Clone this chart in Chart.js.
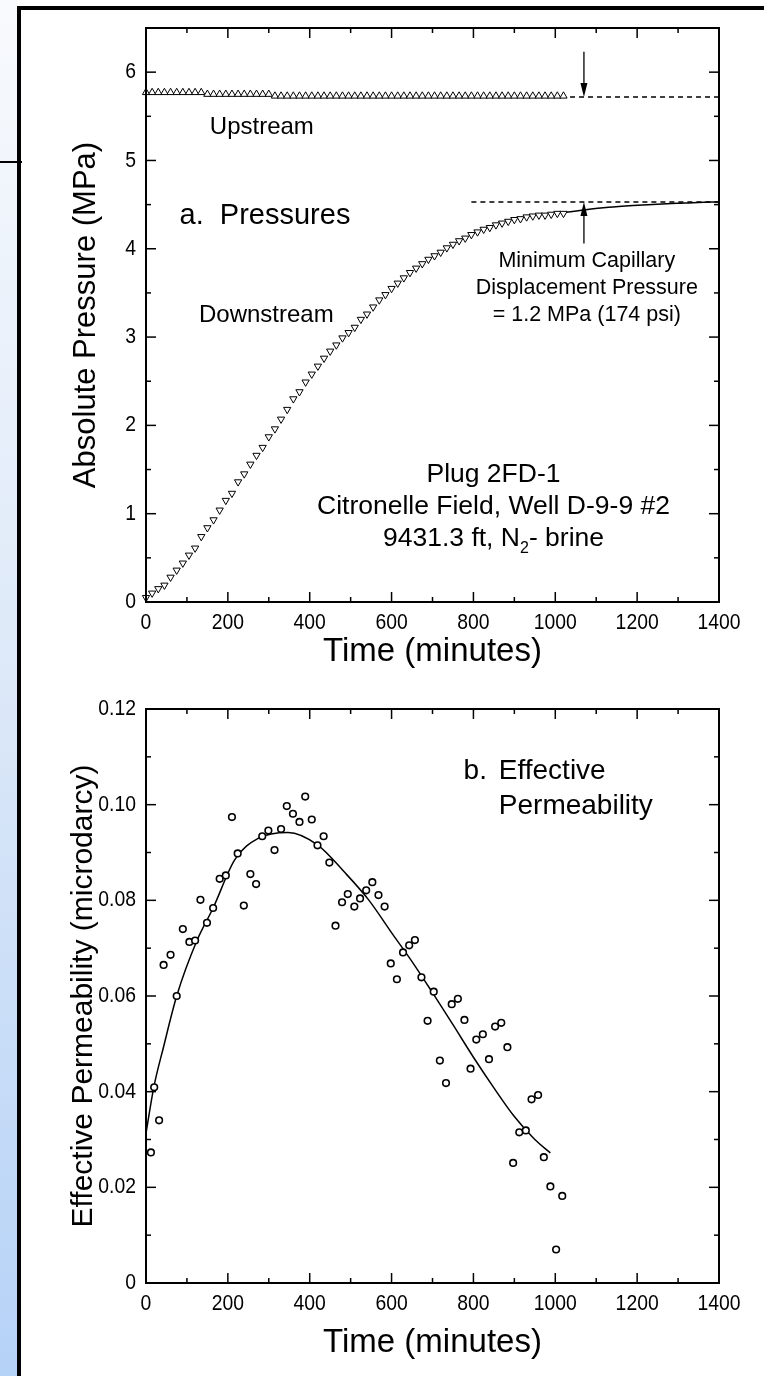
<!DOCTYPE html>
<html>
<head>
<meta charset="utf-8">
<script src="https://cdn.jsdelivr.net/npm/chart.js@4.4.0/dist/chart.umd.min.js"></script>
<style>
  html, body { margin: 0; padding: 0; background: #fff; }
  body { width: 764px; height: 1376px; position: relative; overflow: hidden; }
  #strip { position: absolute; left: 0; top: 0; width: 17px; height: 1376px;
           background: linear-gradient(#f8fafd, #dce8f8 50%, #b5d2f7); }
  #vline { position: absolute; left: 17px; top: 6px; width: 4px; height: 1370px; background: #000; }
  #hline { position: absolute; left: 17px; top: 6px; width: 747px; height: 4px; background: #000; }
  #notch { position: absolute; left: 0; top: 161px; width: 22px; height: 2px; background: #000; }
  canvas { position: absolute; left: 0; }
</style>
</head>
<body>
<div id="strip"></div><div id="vline"></div><div id="hline"></div><div id="notch"></div>
<canvas id="chartA" width="764" height="680" style="top:0"></canvas>
<canvas id="chartB" width="764" height="696" style="top:680px"></canvas>
<script>
// axis ticks
const timeTicks = [0, 200, 400, 600, 800, 1000, 1200, 1400];
const timeMinor = [100, 300, 500, 700, 900, 1100, 1300];
const pressureTicks = [0, 1, 2, 3, 4, 5, 6];
const pressureMinor = [0.5, 1.5, 2.5, 3.5, 4.5, 5.5];
const permTicks = [0, 0.02, 0.04, 0.06, 0.08, 0.10, 0.12];
const permMinor = [0.01, 0.03, 0.05, 0.07, 0.09, 0.11];
const permTickLabels = ['0', '0.02', '0.04', '0.06', '0.08', '0.10', '0.12'];

// a. pressures (minutes, MPa)
const pressureTimes = [0, 15, 30, 45, 60, 75, 90, 105, 120, 135, 150, 165, 180, 195, 210, 225, 240, 255,
  270, 285, 300, 315, 330, 345, 360, 375, 390, 405, 420, 435, 450, 465, 480, 495, 510, 525, 540, 555,
  570, 585, 600, 615, 630, 645, 660, 675, 690, 705, 720, 735, 750, 765, 780, 795, 810, 825, 840, 855,
  870, 885, 900, 915, 930, 945, 960, 975, 990, 1005, 1020];
const upstreamMPa = [5.77, 5.77, 5.77, 5.77, 5.77, 5.77, 5.77, 5.77, 5.77, 5.77, 5.75, 5.75, 5.75, 5.75,
  5.75, 5.75, 5.75, 5.75, 5.75, 5.75, 5.75, 5.73, 5.73, 5.73, 5.73, 5.73, 5.73, 5.73, 5.73, 5.73, 5.73,
  5.73, 5.73, 5.73, 5.73, 5.73, 5.73, 5.73, 5.73, 5.73, 5.73, 5.73, 5.73, 5.73, 5.73, 5.73, 5.73, 5.73,
  5.73, 5.73, 5.73, 5.73, 5.73, 5.73, 5.73, 5.73, 5.73, 5.73, 5.73, 5.73, 5.73, 5.73, 5.73, 5.73, 5.73,
  5.73, 5.73, 5.73, 5.73];
const downstreamMPa = [0.05, 0.10, 0.15, 0.19, 0.28, 0.36, 0.44, 0.53, 0.61, 0.74, 0.84, 0.93, 1.04, 1.15,
  1.23, 1.36, 1.45, 1.56, 1.66, 1.75, 1.87, 1.96, 2.07, 2.18, 2.30, 2.38, 2.49, 2.58, 2.67, 2.76, 2.84,
  2.91, 2.99, 3.05, 3.11, 3.20, 3.26, 3.34, 3.42, 3.48, 3.55, 3.61, 3.67, 3.73, 3.78, 3.83, 3.88, 3.92,
  3.96, 4.01, 4.05, 4.09, 4.12, 4.16, 4.19, 4.22, 4.24, 4.27, 4.29, 4.31, 4.33, 4.34, 4.36, 4.37, 4.38,
  4.38, 4.39, 4.40, 4.40];
const downFitTimes = [1020, 1070, 1130, 1190, 1250, 1300, 1350, 1400];
const downFitMPa = [4.41, 4.44, 4.47, 4.49, 4.505, 4.515, 4.525, 4.53];
const upLevelTimes = [1036, 1400];
const upLevelMPa = [5.72, 5.72];
const downLevelTimes = [795, 1400];
const downLevelMPa = [4.53, 4.53];

// b. effective permeability (minutes, microdarcy)
const permTimes = [12, 20, 32, 43, 60, 75, 90, 106, 120, 133, 149, 164, 180, 195, 210, 224, 239, 255, 269,
  284, 299, 314, 330, 344, 359, 375, 389, 405, 419, 434, 448, 463, 479, 493, 509, 523, 538, 553, 568,
  583, 598, 613, 628, 643, 657, 673, 688, 703, 718, 733, 747, 762, 778, 793, 807, 823, 838, 853, 868,
  883, 897, 912, 928, 942, 958, 972, 988, 1002, 1017];
const permValues = [0.0273, 0.0409, 0.0340, 0.0665, 0.0686, 0.0600, 0.0740, 0.0713, 0.0716, 0.0801,
  0.0753, 0.0784, 0.0845, 0.0852, 0.0974, 0.0898, 0.0789, 0.0855, 0.0834, 0.0934, 0.0946, 0.0905,
  0.0949, 0.0997, 0.0981, 0.0964, 0.1017, 0.0969, 0.0915, 0.0934, 0.0879, 0.0747, 0.0796, 0.0813,
  0.0787, 0.0804, 0.0821, 0.0838, 0.0811, 0.0787, 0.0668, 0.0635, 0.0691, 0.0706, 0.0717, 0.0639,
  0.0548, 0.0609, 0.0465, 0.0418, 0.0583, 0.0594, 0.0550, 0.0448, 0.0509, 0.0520, 0.0468, 0.0536,
  0.0544, 0.0493, 0.0251, 0.0315, 0.0319, 0.0384, 0.0393, 0.0263, 0.0202, 0.0070, 0.0182];
const permFitTimes = [0, 19, 43, 75, 125, 164, 217, 275, 347, 419, 487, 544, 602, 650, 700, 750, 800, 850, 900, 950, 988];
const permFitValues = [0.0313, 0.0409, 0.0494, 0.0600, 0.0717, 0.0784, 0.0885, 0.0930, 0.0942, 0.0916,
  0.0857, 0.0801, 0.0730, 0.0672, 0.0607, 0.0540, 0.0472, 0.0408, 0.0348, 0.0300, 0.0272];

const FONT = "'Liberation Sans', Arial, sans-serif";
Chart.defaults.font.family = FONT;
Chart.defaults.color = '#000';

const pts = (xs, ys) => xs.map((x, i) => ({ x: x, y: ys[i] }));

// narrow-looking text, as in the scanned figure
function narrowText(ctx, text, x, y, size, align, squeeze) {
  ctx.save();
  ctx.font = size + 'px ' + FONT;
  ctx.textAlign = align;
  ctx.textBaseline = 'middle';
  ctx.translate(x, y);
  ctx.scale(squeeze, 1);
  ctx.fillText(text, 0, 0);
  ctx.restore();
}

// inward ticks on all four sides + frame + tick labels + text notes
const decor = {
  id: 'decor',
  afterDatasetsDraw(chart, args, opts) {
    const ctx = chart.ctx;
    const xs = chart.scales.x, ys = chart.scales.y;
    const { left, right, top, bottom } = chart.chartArea;
    ctx.save();
    ctx.strokeStyle = '#000';
    ctx.fillStyle = '#000';
    ctx.lineWidth = 1.5;
    const seg = (x1, y1, x2, y2) => { ctx.beginPath(); ctx.moveTo(x1, y1); ctx.lineTo(x2, y2); ctx.stroke(); };
    opts.xMajor.forEach(v => { const x = xs.getPixelForValue(v); seg(x, bottom, x, bottom - 10); seg(x, top, x, top + 10); });
    opts.xMinor.forEach(v => { const x = xs.getPixelForValue(v); seg(x, bottom, x, bottom - 5); seg(x, top, x, top + 5); });
    opts.yMajor.forEach(v => { const y = ys.getPixelForValue(v); seg(left, y, left + 10, y); seg(right, y, right - 10, y); });
    opts.yMinor.forEach(v => { const y = ys.getPixelForValue(v); seg(left, y, left + 5, y); seg(right, y, right - 5, y); });
    ctx.lineWidth = 2;
    ctx.strokeRect(left, top, right - left, bottom - top);

    // tick labels
    opts.xMajor.forEach(v => narrowText(ctx, String(v), xs.getPixelForValue(v), bottom + 21, 22, 'center', 0.88));
    opts.yMajor.forEach((v, i) => {
      const label = opts.yLabels ? opts.yLabels[i] : String(v);
      narrowText(ctx, label, left - 10, ys.getPixelForValue(v), 22, 'right', 0.88);
    });

    // arrows
    ctx.lineWidth = 1.3;
    (opts.arrows || []).forEach(a => {
      const x = xs.getPixelForValue(a.t);
      const y0 = ys.getPixelForValue(a.from), y1 = ys.getPixelForValue(a.to);
      const dir = y1 > y0 ? 1 : -1;
      seg(x, y0, x, y1 - dir * 10);
      ctx.beginPath();
      ctx.moveTo(x, y1);
      ctx.lineTo(x - 3.5, y1 - dir * 14);
      ctx.lineTo(x + 3.5, y1 - dir * 14);
      ctx.closePath();
      ctx.fill();
    });

    // notes
    ctx.textBaseline = 'middle';
    (opts.notes || []).forEach(n => {
      ctx.font = n.size + 'px ' + FONT;
      const x = xs.getPixelForValue(n.t), y = ys.getPixelForValue(n.v);
      if (n.sub) {
        const subFont = Math.round(n.size * 0.62) + 'px ' + FONT;
        const w1 = ctx.measureText(n.text).width;
        const w3 = ctx.measureText(n.after).width;
        ctx.font = subFont;
        const w2 = ctx.measureText(n.sub).width;
        let sx = x - (w1 + w2 + w3) / 2;
        ctx.textAlign = 'left';
        ctx.font = n.size + 'px ' + FONT;
        ctx.fillText(n.text, sx, y);
        ctx.font = subFont;
        ctx.fillText(n.sub, sx + w1, y + n.size * 0.38);
        ctx.font = n.size + 'px ' + FONT;
        ctx.fillText(n.after, sx + w1 + w2, y);
      } else {
        ctx.textAlign = n.align || 'center';
        ctx.fillText(n.text, x, y);
      }
    });
    ctx.restore();
  }
};

function axis(opts) {
  return Object.assign({
    type: 'linear',
    grid: { display: false, drawTicks: false },
    border: { display: false },
    ticks: { display: false }
  }, opts);
}

function xAxis(titlePad, height) {
  return axis({
    min: 0, max: 1400,
    afterBuildTicks: s => { s.ticks = timeTicks.map(v => ({ value: v })); },
    afterFit: s => { s.height = height; },
    title: { display: true, text: 'Time (minutes)', font: { size: 33 }, padding: { top: 0, bottom: titlePad } }
  });
}

new Chart(document.getElementById('chartA'), {
  type: 'scatter',
  data: {
    datasets: [
      { data: pts(pressureTimes, upstreamMPa), pointStyle: 'triangle', radius: 4.2,
        backgroundColor: '#fff', borderColor: '#000', borderWidth: 1, clip: false },
      { data: pts(pressureTimes, downstreamMPa), pointStyle: 'triangle', rotation: 180, radius: 4.2,
        backgroundColor: '#fff', borderColor: '#000', borderWidth: 1, clip: false },
      { type: 'line', data: pts(downFitTimes, downFitMPa), borderColor: '#000', borderWidth: 1.5,
        pointRadius: 0, tension: 0.4, cubicInterpolationMode: 'monotone' },
      { type: 'line', data: pts(upLevelTimes, upLevelMPa), borderColor: '#000', borderWidth: 1.5,
        borderDash: [5, 4], pointRadius: 0 },
      { type: 'line', data: pts(downLevelTimes, downLevelMPa), borderColor: '#000', borderWidth: 1.5,
        borderDash: [5, 4], pointRadius: 0 }
    ]
  },
  options: {
    responsive: false, animation: false, devicePixelRatio: 1,
    layout: { padding: { left: 0, top: 28, right: 45, bottom: 0 } },
    plugins: {
      legend: { display: false }, tooltip: { enabled: false },
      decor: {
        xMajor: timeTicks, xMinor: timeMinor, yMajor: pressureTicks, yMinor: pressureMinor,
        arrows: [{ t: 1070, from: 6.23, to: 5.72 }, { t: 1070, from: 4.06, to: 4.53 }],
        notes: [
          { text: 'Upstream', t: 283, v: 5.38, size: 24 },
          { text: 'a.  Pressures', t: 82, v: 4.37, size: 29, align: 'left' },
          { text: 'Downstream', t: 294, v: 3.25, size: 24 },
          { text: 'Minimum Capillary', t: 1077, v: 3.86, size: 21.5 },
          { text: 'Displacement Pressure', t: 1077, v: 3.55, size: 21.5 },
          { text: '= 1.2 MPa (174 psi)', t: 1077, v: 3.25, size: 21.5 },
          { text: 'Plug 2FD-1', t: 849, v: 1.44, size: 26.5 },
          { text: 'Citronelle Field, Well D-9-9 #2', t: 849, v: 1.08, size: 26.5 },
          { text: '9431.3 ft, N', sub: '2', after: '- brine', t: 849, v: 0.72, size: 26.5 }
        ]
      }
    },
    scales: {
      x: xAxis(8, 78),
      y: axis({
        min: 0, max: 6.5,
        afterBuildTicks: s => { s.ticks = pressureTicks.map(v => ({ value: v })); },
        afterFit: s => { s.width = 146; },
        title: { display: true, text: 'Absolute Pressure (MPa)', font: { size: 31 }, padding: { top: 68, bottom: 0 } }
      })
    }
  },
  plugins: [decor]
});

new Chart(document.getElementById('chartB'), {
  type: 'scatter',
  data: {
    datasets: [
      { data: pts(permTimes, permValues), pointStyle: 'circle', radius: 3.3,
        backgroundColor: '#fff', borderColor: '#000', borderWidth: 1.6, clip: false },
      { type: 'line', data: pts(permFitTimes, permFitValues), borderColor: '#000', borderWidth: 1.5,
        pointRadius: 0, tension: 0.4, cubicInterpolationMode: 'monotone' }
    ]
  },
  options: {
    responsive: false, animation: false, devicePixelRatio: 1,
    layout: { padding: { left: 0, top: 29, right: 45, bottom: 0 } },
    plugins: {
      legend: { display: false }, tooltip: { enabled: false },
      decor: {
        xMajor: timeTicks, xMinor: timeMinor, yMajor: permTicks, yMinor: permMinor, yLabels: permTickLabels,
        notes: [
          { text: 'b.', t: 776, v: 0.107, size: 28, align: 'left' },
          { text: 'Effective', t: 862, v: 0.107, size: 28, align: 'left' },
          { text: 'Permeability', t: 862, v: 0.0997, size: 28, align: 'left' }
        ]
      }
    },
    scales: {
      x: xAxis(13, 93),
      y: axis({
        min: 0, max: 0.12,
        afterBuildTicks: s => { s.ticks = permTicks.map(v => ({ value: v })); },
        afterFit: s => { s.width = 146; },
        title: { display: true, text: 'Effective Permeability (microdarcy)', font: { size: 30 }, padding: { top: 66, bottom: 0 } }
      })
    }
  },
  plugins: [decor]
});
</script>
</body>
</html>
